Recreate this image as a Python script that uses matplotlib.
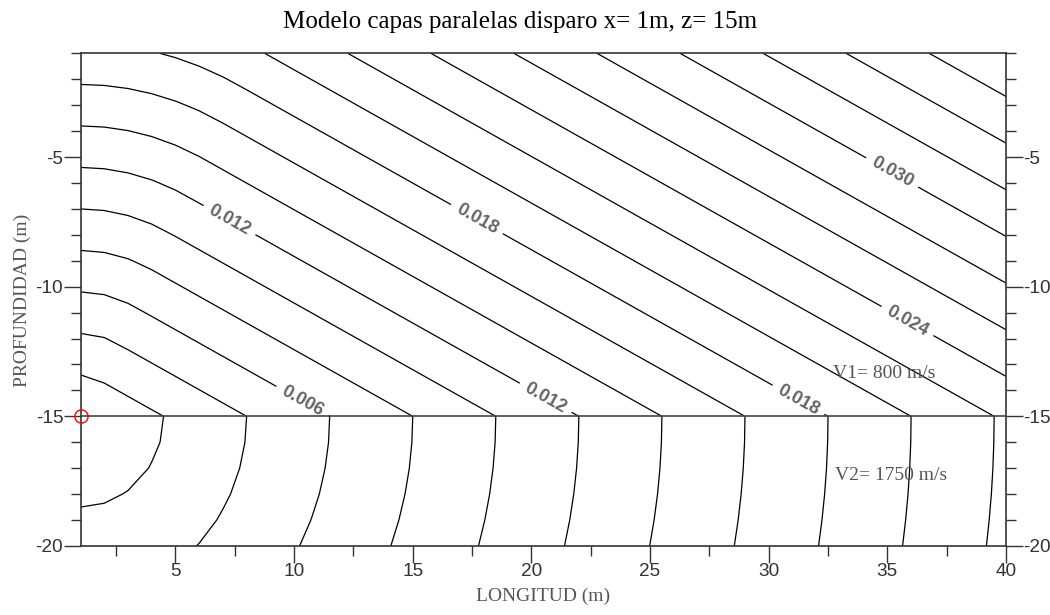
import numpy as np
import matplotlib
matplotlib.use("Agg")
import matplotlib.pyplot as plt
from matplotlib.ticker import MultipleLocator

# ---- model ----
shot_x = 1.0          # disparo x = 1 m
shot_z = -15.0        # disparo z = 15 m
interface_z = -15.0   # boundary between the two layers
v1 = 800.0            # V1 (m/s)
v2 = 1750.0           # V2 (m/s)

x_nodes = np.arange(1.0, 40.5, 1.0)
z_nodes = np.arange(-20.0, -0.5, 1.0)

plain_levels = [0.002, 0.004, 0.008, 0.010, 0.014, 0.016,
                0.020, 0.022, 0.026, 0.028, 0.032, 0.034, 0.036]
label_levels = [0.006, 0.012, 0.018, 0.024, 0.030]
label_spots = [(7.3, -7.4), (17.7, -7.4), (35.2, -5.6), (35.8, -11.4),
               (10.6, -14.0), (20.9, -13.8), (31.6, -13.8)]

x_major = [5, 10, 15, 20, 25, 30, 35, 40]
y_major = [-5, -10, -15, -20]

title = "Modelo capas paralelas disparo x= 1m, z= 15m"
xlabel = "LONGITUD (m)"
ylabel = "PROFUNDIDAD (m)"
v1_text = "V1= 800 m/s"
v2_text = "V2= 1750 m/s"

# ---- first-arrival travel time field of the two-layer model ----
X, Z = np.meshgrid(x_nodes, z_nodes)
dx = X - shot_x
h = Z - interface_z
r = np.hypot(dx, Z - shot_z)
ic = np.arcsin(v1 / v2)
t_direct = r / v1
t_head = dx / v2 + h * np.cos(ic) / v1
upper = np.where(dx >= h * np.tan(ic), np.minimum(t_head, t_direct), t_direct)
lower = r / v2
T = np.where(Z > interface_z, upper, lower)

# ---- figure ----
plt.rcParams['font.family'] = ['Liberation Sans', 'DejaVu Sans']
plt.rcParams['axes.unicode_minus'] = False
fig = plt.figure(figsize=(10.5, 6.15), dpi=100)
ax = fig.add_axes([80.5 / 1050, 1 - 546 / 615, 925.5 / 1050, 492.7 / 615])

ax.contour(X, Z, T, levels=plain_levels, colors='black', linewidths=0.9)
cs = ax.contour(X, Z, T, levels=label_levels, colors='black', linewidths=0.9)
plt.rcParams['font.weight'] = 'bold'
txts = ax.clabel(cs, manual=label_spots, fmt='%.3f',
                 fontsize=13, colors='#646464', inline=True, inline_spacing=7)
plt.rcParams['font.weight'] = 'normal'
for t in txts:
    t.set_fontweight('bold')

ax.axhline(interface_z, color='#444444', lw=1.2, zorder=3)
ax.plot([shot_x], [shot_z], 'o', mfc='none', mec='red', ms=9.5, mew=1.0,
        clip_on=False, zorder=5)

ax.set_xlim(1, 40)
ax.set_ylim(-20, -1)
ax.set_xticks(x_major)
ax.set_yticks(y_major)
ax.xaxis.set_minor_locator(MultipleLocator(2.5))
ax.yaxis.set_minor_locator(MultipleLocator(1))
ax.tick_params(which='both', direction='out', top=False, right=True,
               labelright=True, color='#333333', labelcolor='#333333',
               labelsize=13.7, width=1.0)
ax.tick_params(which='major', length=12, pad=0.5)
ax.tick_params(which='minor', length=7)
for s in ax.spines.values():
    s.set_color('#333333')
    s.set_linewidth(1.2)

serif = ['Liberation Serif', 'DejaVu Serif']
ax.text(32.7, -13.33, v1_text, family=serif, fontsize=14, color='#555555',
        ha='left', va='center')
ax.text(32.8, -17.27, v2_text, family=serif, fontsize=14, color='#555555',
        ha='left', va='center')

fig.text(520 / 1050, 1 - 22 / 615, title, family=serif, fontsize=18,
         color='black', ha='center', va='center')
fig.text(543.5 / 1050, 1 - 596 / 615, xlabel, family=serif, fontsize=14,
         color='#555555', ha='center', va='center')
fig.text(22 / 1050, 1 - 300 / 615, ylabel, family=serif, fontsize=14,
         color='#555555', ha='center', va='center', rotation=90)

fig.savefig('out.png', dpi=100)
